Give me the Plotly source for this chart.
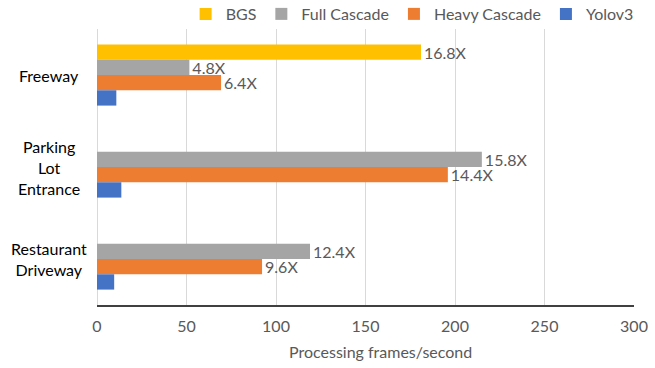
import plotly.graph_objects as go

categories = ["Freeway", "Parking Lot Entrance", "Restaurant Driveway"]
category_labels = ["Freeway", "Parking<br>Lot<br>Entrance", "Restaurant<br>Driveway"]
series_names = ["BGS", "Full Cascade", "Heavy Cascade", "Yolov3"]
bgs = [181.0, None, None]
full_cascade = [51.6, 215.0, 119.0]
heavy_cascade = [69.3, 196.0, 92.2]
yolov3 = [10.8, 13.6, 9.6]
bgs_text = ["16.8X", "", ""]
full_text = ["4.8X", "15.8X", "12.4X"]
heavy_text = ["6.4X", "14.4X", "9.6X"]
yolo_text = ["", "", ""]
colors = ["#FFC000", "#A5A5A5", "#ED7D31", "#4472C4"]
x_ticks = [0, 50, 100, 150, 200, 250, 300]
x_title = "Processing frames/second"

FONT = "Lato"
GRAY = "#595959"

fig = go.Figure()
for name, vals, txt, col in zip(series_names,
                                [bgs, full_cascade, heavy_cascade, yolov3],
                                [bgs_text, full_text, heavy_text, yolo_text],
                                colors):
    fig.add_trace(go.Bar(
        y=categories, x=vals, name=name, orientation="h",
        marker=dict(color=col, line=dict(width=0)),
        text=txt, textposition="outside", cliponaxis=False,
        constraintext="none",
        textfont=dict(family=FONT, size=16, color=GRAY),
    ))

annotations = []
for c, lab in zip(categories, category_labels):
    annotations.append(dict(
        x=-0.09, xref="paper", y=c, yref="y", text=lab, showarrow=False,
        xanchor="center", yanchor="middle", align="center",
        font=dict(family=FONT, size=16, color="#000000"),
    ))
annotations.append(dict(
    x=0.528, xref="paper", y=-0.17, yref="paper", text=x_title, showarrow=False,
    xanchor="center", yanchor="middle",
    font=dict(family=FONT, size=16, color=GRAY),
))

fig.update_layout(
    width=655, height=368,
    margin=dict(l=97, r=21, t=29, b=63, autoexpand=False),
    paper_bgcolor="white", plot_bgcolor="white",
    barmode="group", bargap=0.335, bargroupgap=0,
    font=dict(family=FONT, size=16, color=GRAY),
    showlegend=True,
    legend=dict(
        orientation="h", xref="container", yref="container",
        x=0.975, xanchor="right", y=0.962, yanchor="middle",
        font=dict(family=FONT, size=16, color=GRAY),
        itemwidth=30, traceorder="normal",
        bgcolor="rgba(0,0,0,0)",
    ),
    xaxis=dict(
        range=[0, 300], tickvals=x_ticks, showgrid=True, gridcolor="#D9D9D9",
        gridwidth=1, zeroline=True, zerolinecolor="#D9D9D9", zerolinewidth=1,
        showline=True, linecolor="#404040", linewidth=1.5,
        tickfont=dict(family=FONT, size=16, color=GRAY),
        ticks="", ticklabelstandoff=6,
    ),
    yaxis=dict(
        autorange="reversed", showticklabels=False, showgrid=False,
        zeroline=False, showline=False, ticks="",
    ),
    annotations=annotations,
)

fig.write_html(
    "out.html",
    config={"displayModeBar": False},
    post_script="document.body.style.margin='0';document.body.style.overflow='hidden';",
)
